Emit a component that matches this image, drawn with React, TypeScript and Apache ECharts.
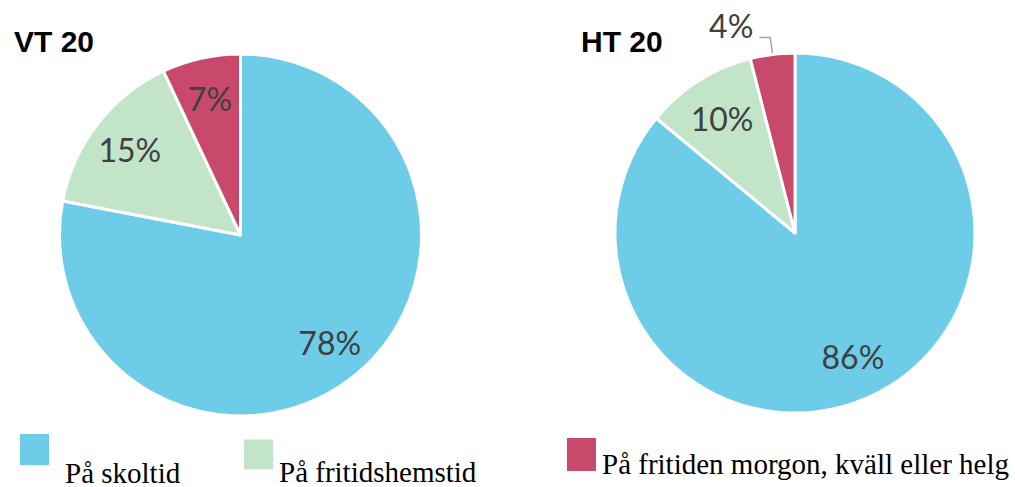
import React, { useEffect, useRef } from "react";
import * as echarts from "echarts";

const categories = ["På skoltid", "På fritidshemstid", "På fritiden morgon, kväll eller helg"];
const vt20Values = [78, 15, 7];
const ht20Values = [86, 10, 4];
const colors = ["#6DCDE8", "#C2E4C8", "#C8496C"];
const titles = ["VT 20", "HT 20"];

export default function App() {
  const ref = useRef<HTMLDivElement>(null);
  useEffect(() => {
    if (!ref.current) return;
    const chart = echarts.init(ref.current, undefined, { renderer: "svg" });
    const labelFont = { fontFamily: "Lato", fontSize: 32, color: "#404040" };

    const realPie = (values: number[], center: [number, number], r: number, outsideIdx: number) => ({
      type: "pie",
      center,
      radius: r,
      startAngle: 90,
      clockwise: true,
      silent: true,
      emphasis: { disabled: true },
      itemStyle: { borderColor: "#fff", borderWidth: 3 },
      label: { show: false },
      labelLine: { show: false },
      data: values.map((v, i) => ({
        value: v,
        name: categories[i],
        itemStyle: { color: colors[i] },
        label:
          i === outsideIdx
            ? { show: true, position: "outside", formatter: "{c}%\n", ...labelFont, lineHeight: 24, distanceToLabelLine: 6 }
            : { show: false },
        labelLine:
          i === outsideIdx
            ? { show: true, length: 17, length2: 11, lineStyle: { color: "#A6A6A6", width: 1.5 } }
            : { show: false },
      })),
    });

    const labelPie = (values: number[], center: [number, number], r: number, outsideIdx: number) => ({
      type: "pie",
      center,
      radius: r,
      startAngle: 90,
      clockwise: true,
      silent: true,
      emphasis: { disabled: true },
      itemStyle: { color: "rgba(0,0,0,0)", borderWidth: 0 },
      labelLine: { show: false },
      label: { show: true, position: "inside", formatter: "{c}%", ...labelFont },
      data: values.map((v, i) => ({
        value: v,
        name: categories[i],
        label: i === outsideIdx ? { show: false } : undefined,
      })),
    });

    const legendFor = (idx: number, left: number, top: number, iconH: number, drop: number, padLeft: number) => ({
      orient: "horizontal",
      icon: "rect",
      padding: 0,
      itemWidth: 31,
      itemHeight: iconH,
      selectedMode: false,
      left,
      top,
      data: [categories[idx]],
      formatter: (name: string) => "{e|}\n{t|" + name + "}",
      textStyle: {
        fontFamily: "Liberation Serif",
        fontSize: 29,
        color: "#000",
        rich: {
          e: { lineHeight: drop * 2, fontSize: 29, fontFamily: "Liberation Serif" },
          t: { lineHeight: 24, fontSize: 29, fontFamily: "Liberation Serif", color: "#000", padding: [0, 0, 0, padLeft] },
        },
      },
    });

    chart.setOption({
      animation: false,
      backgroundColor: "#fff",
      title: [
        { text: titles[0], left: 14, top: 26, padding: 0, textStyle: { fontFamily: "Liberation Sans", fontWeight: "bold", fontSize: 30, color: "#000" } },
        { text: titles[1], left: 581, top: 26, padding: 0, textStyle: { fontFamily: "Liberation Sans", fontWeight: "bold", fontSize: 30, color: "#000" } },
      ],
      legend: [
        legendFor(0, 18, 423, 33, 23, 10),
        legendFor(1, 242, 428, 32, 17, 0),
        legendFor(2, 565, 428, 35, 9, 0),
      ],
      series: [
        realPie(vt20Values, [240.5, 235], 181, -1),
        realPie(ht20Values, [795, 233], 180, 2),
        labelPie(vt20Values, [240.5, 235], 274, -1),
        labelPie(ht20Values, [795, 233], 266, 2),
      ],
    });
    return () => chart.dispose();
  }, []);
  return <div ref={ref} style={{ position: "fixed", left: 0, top: 0, width: 1015, height: 487 }} />;
}
